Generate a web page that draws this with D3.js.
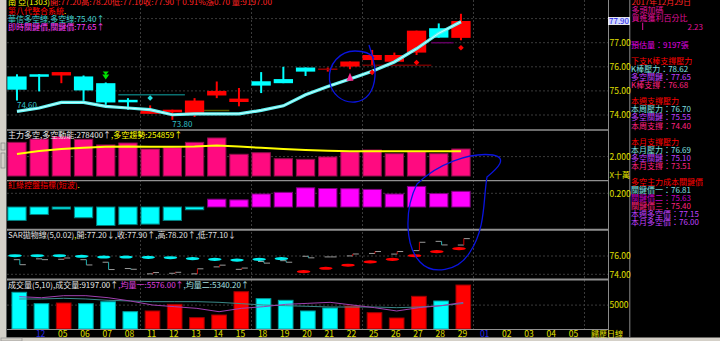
<!DOCTYPE html>
<html>
<head>
<meta charset="utf-8">
<script src="https://cdnjs.cloudflare.com/ajax/libs/d3/7.8.5/d3.min.js"></script>
<style>
body { margin: 0; background: #000; }
svg text { font-family: "Noto Sans CJK TC", "Noto Sans CJK SC", sans-serif; font-size: 8px; }
</style>
</head>
<body>
<div id="chart"></div>
<script>
var dayLabels = ["", "12", "05", "06", "07", "08", "11", "12", "13", "14", "15", "18", "19", "20", "21", "22", "25", "26", "27", "28", "29", "01", "02", "03", "04", "05", ""];
var monthIdx = [1, 21];

var open  = [75.60, 75.69, 75.64, 75.60, 75.32, 74.63, 74.05, 74.11, 74.05, 74.81, 74.54, 75.40, 75.49, 75.97, 75.90, 76.01, 76.28, 76.21, 76.59, 77.60, 77.20];
var high  = [75.69, 75.70, 75.78, 75.64, 75.35, 74.70, 74.40, 74.22, 74.70, 75.39, 75.12, 75.78, 76.00, 75.97, 75.97, 76.22, 76.70, 76.59, 77.50, 77.80, 78.20];
var low   = [74.60, 74.98, 75.32, 74.59, 74.42, 74.22, 74.05, 73.80, 73.92, 74.70, 74.36, 74.91, 75.32, 75.62, 75.80, 75.90, 76.08, 76.21, 76.49, 77.21, 77.10];
var close = [75.05, 75.60, 75.78, 75.02, 74.52, 74.55, 74.19, 74.22, 74.60, 75.00, 74.68, 75.22, 75.32, 75.80, 75.90, 76.22, 76.49, 76.49, 77.50, 77.21, 77.90];
var trendLine = [74.15, 74.29, 74.52, 74.52, 74.36, 74.29, 74.22, 74.01, 74.05, 74.05, 74.05, 74.19, 74.38, 74.84, 75.18, 75.49, 75.82, 76.20, 76.75, 77.39, 77.87];

var power = [347000, 381000, 405000, 378000, 320000, 340000, 278000, 292000, 347000, 392000, 224000, 240000, 178000, 172000, 196000, 250000, 268000, 230000, 250000, 230000, 278400];
var powerTrend = [226000, 257000, 278000, 292000, 302000, 305000, 302000, 302000, 305000, 315000, 305000, 290000, 278000, 268000, 260000, 255000, 255000, 255000, 254000, 254000, 254859];

var redGreen = [-0.196, -0.11, -0.03, -0.157, -0.27, -0.257, -0.25, -0.196, -0.04, 0.114, 0.104, 0.19, 0.214, 0.28, 0.27, 0.267, 0.257, 0.19, 0.30, 0.196, 0.229];

var sar = [76.03, 76.03, 76.03, 75.97, 75.89, 75.89, 75.86, 75.81, 75.71, 75.64, 75.56, 75.64, 75.71, 74.29, 74.66, 74.99, 75.35, 75.64, 76.03, 76.47, 76.80];

var volume = [7680, 5300, 5440, 5300, 5700, 3620, 3770, 5160, 2370, 2930, 7800, 6340, 6000, 3770, 4390, 4810, 3410, 2300, 6840, 5860, 9197];
var volMa5 = [6760, 6550, 6970, 6970, 6550, 5860, 5020, 4670, 4320, 3620, 4320, 4670, 5160, 5370, 5580, 5020, 4460, 3770, 4460, 4880, 5576];
var volMa10 = [6280, 6280, 6420, 6280, 6000, 5860, 5720, 5720, 5720, 5580, 5300, 5020, 4880, 4740, 4600, 4600, 4600, 4460, 4600, 4880, 5340.2];

var markers = [{ i: 4, kind: "arrow" }, { i: 6, kind: "cyanDot" }, { i: 15, kind: "tri" }, { i: 16, kind: "redDot" }, { i: 18, kind: "redDot" }, { i: 20, kind: "redDot" }];
var lowLabels = [0, 7];
var levels = [
  { from: 5, to: 8, price: 74.84, kind: "a" },
  { from: 8, to: 10, price: 74.19, kind: "b" },
  { from: 16, to: 19.1, price: 76.06, kind: "c" },
  { from: 19.1, to: 20.1, price: 77.0, kind: "d" }
];

var infoTop = [
  { t: "2017年12月29日", k: "date" },
  { t: "多頭加碼", k: "sig" },
  { t: "買進獲利百分比", k: "sig" }
];
var profitPct = "2.23";
var infoRows = [
  { t: "預估量：9197張", k: "est" }, null,
  { t: "下支K棒支撐壓力", k: "head" },
  { t: "K棒壓力：78.62", k: "res" },
  { t: "多空關鍵：77.65", k: "key" },
  { t: "K棒支撐：76.68", k: "sup" }, null,
  { t: "本週支撐壓力", k: "head" },
  { t: "本周壓力：76.70", k: "res" },
  { t: "多空關鍵：75.55", k: "key" },
  { t: "本周支撐：74.40", k: "sup" }, null,
  { t: "本月支撐壓力", k: "head" },
  { t: "本月壓力：76.69", k: "res" },
  { t: "多空關鍵：75.10", k: "key" },
  { t: "本月支撐：73.51", k: "sup" }, null,
  { t: "多空主力成本關鍵價", k: "head" },
  { t: "關鍵價一：76.81", k: "res" },
  { t: "關鍵價二：75.63", k: "key2" },
  { t: "關鍵價三：75.40", k: "sup" },
  { t: "本週多空價：77.15", k: "key" },
  { t: "本月多空價：76.00", k: "key" }
];

var infoColor = { date: "#ff2020", sig: "#e0109a", est: "#e000e0", head: "#ff0000", res: "#80e0e0", key: "#c040ff", key2: "#c800c8", sup: "#ff2080" };
var levelColor = { a: "#0a7070", b: "#5a5a00", c: "#700000", d: "#600060" };
var RED = "#ff0000", CYAN = "#00ffff", YEL = "#e0e000";

var W = 720, H = 341, PR = 608;
var svg = d3.select("#chart").append("svg").attr("width", W).attr("height", H)
  .style("display", "block").style("background", "#000");

var x = d3.scaleBand().domain(d3.range(dayLabels.length)).range([7.3, 7.3 + 22.2 * dayLabels.length]);
var bw = x.bandwidth();
function cx(i) { return x(i) + bw * 0.435; }
function xs(f) { return x.range()[0] + f * x.step(); }

var yMain = d3.scaleLinear().domain([74, 77]).range([115, 42.7]);
var y2 = d3.scaleLinear().domain([0, 200000]).range([176, 156.6]);
var y3 = d3.scaleLinear().domain([0, 0.2]).range([207, 193.3]);
var y4 = d3.scaleLinear().domain([74, 76]).range([274.3, 256]);
var yv = d3.scaleLinear().domain([0, 5000]).range([329, 305.1]);

var panels = [[0, 130], [130.5, 180.5], [180.5, 229.5], [229.5, 279.3], [279.3, 329.5]];
var defs = svg.append("defs");
panels.forEach(function (p, k) {
  defs.append("clipPath").attr("id", "clip" + k).append("rect")
    .attr("x", 7).attr("y", p[0]).attr("width", PR - 7).attr("height", p[1] - p[0]);
});
function panel(k) { return svg.append("g").attr("clip-path", "url(#clip" + k + ")"); }

// frame
svg.append("rect").attr("x", 0).attr("y", 0).attr("width", 6).attr("height", 338).attr("fill", "#d4d0c8");
svg.append("rect").attr("x", 1).attr("y", 143).attr("width", 4).attr("height", 7).attr("fill", "none").attr("stroke", "#808080").attr("stroke-width", 0.7);
svg.append("rect").attr("x", 1).attr("y", 153).attr("width", 4).attr("height", 15).attr("fill", "none").attr("stroke", "#808080").attr("stroke-width", 0.7);
svg.append("line").attr("x1", 6.5).attr("x2", 6.5).attr("y1", 0).attr("y2", 338).attr("stroke", "#606060");

// grid
var grid = svg.append("g").attr("stroke", "#3a3a3a").attr("stroke-dasharray", "2,2").attr("stroke-width", 1);
[6, 11, 16, 21, 26].forEach(function (k) {
  grid.append("line").attr("x1", xs(k)).attr("x2", xs(k)).attr("y1", 0).attr("y2", 329);
});
var hGrid = [yMain(74), yMain(75), yMain(76), yMain(77), yMain(78), y2(200000), y3(0.2), y4(76), y4(74), yv(5000)];
hGrid.forEach(function (yy) {
  grid.append("line").attr("x1", 7).attr("x2", PR).attr("y1", yy).attr("y2", yy);
});

// main panel
var g1 = panel(0);
g1.selectAll("line.lvl").data(levels).join("line")
  .attr("x1", function (d) { return xs(d.from); }).attr("x2", function (d) { return xs(d.to); })
  .attr("y1", function (d) { return yMain(d.price); }).attr("y2", function (d) { return yMain(d.price); })
  .attr("stroke", function (d) { return levelColor[d.kind]; }).attr("stroke-width", 1.5);

var idx = d3.range(open.length);
var candle = g1.selectAll("g.k").data(idx).join("g");
candle.append("line")
  .attr("x1", cx).attr("x2", cx)
  .attr("y1", function (i) { return yMain(high[i]); }).attr("y2", function (i) { return yMain(low[i]); })
  .attr("stroke", function (i) { return close[i] >= open[i] ? RED : CYAN; }).attr("stroke-width", 2);
candle.append("rect")
  .attr("x", function (i) { return x(i); }).attr("width", bw * 0.87)
  .attr("y", function (i) { return close[i] === open[i] ? yMain(open[i]) - 0.7 : yMain(Math.max(open[i], close[i])); })
  .attr("height", function (i) {
    return close[i] === open[i] ? 1.4 : Math.max(2.5, Math.abs(yMain(open[i]) - yMain(close[i])));
  })
  .attr("fill", function (i) { return close[i] === open[i] ? "#a00000" : close[i] > open[i] ? RED : CYAN; });

var mline = d3.line().x(function (d, i) { return cx(i); }).y(function (d) { return yMain(d); });
g1.append("path").datum(trendLine).attr("d", mline).attr("fill", "none").attr("stroke", "#5ff2f2").attr("stroke-width", 3.2);
g1.append("path").datum(trendLine).attr("d", mline).attr("fill", "none").attr("stroke", "#c8ffff").attr("stroke-width", 1);

markers.forEach(function (m) {
  var px = cx(m.i);
  if (m.kind === "arrow") {
    var t = yMain(high[m.i]) - 11;
    g1.append("path").attr("d", "M" + (px - 3) + "," + t + "h6l-3,3.5z M" + (px - 3.5) + "," + (t + 3) + "h7l-3.5,5z").attr("fill", "#00e000");
  } else if (m.kind === "tri") {
    var ty = yMain(low[m.i]) + 3.5;
    g1.append("path").attr("d", "M" + px + "," + ty + "l3.5,8h-7z").attr("fill", "#ff2a90");
  } else {
    var up = m.kind === "cyanDot";
    var dy = up ? yMain(high[m.i]) - 7.4 : yMain(low[m.i]) + 7.5;
    g1.append("path").attr("d", "M" + px + "," + (dy - 2.8) + "l2.8,2.8l-2.8,2.8l-2.8,-2.8z")
      .attr("fill", up ? "#20e0e0" : RED);
  }
});
g1.selectAll("text.low").data(lowLabels).join("text")
  .attr("x", cx).attr("y", function (i) { return yMain(low[i]) + 7.6; })
  .attr("fill", "#30c0c8").text(function (i) { return low[i].toFixed(2); });

// panel 2
var g2 = panel(1);
g2.selectAll("rect").data(power).join("rect")
  .attr("x", function (d, i) { return x(i) + 0.5; }).attr("width", bw * 0.87 - 1)
  .attr("y", function (d) { return y2(d); }).attr("height", function (d) { return y2(0) - y2(d); })
  .attr("fill", "#ff0a80").attr("stroke", "#90104c").attr("stroke-width", 1);
g2.append("path").datum(powerTrend)
  .attr("d", d3.line().x(function (d, i) { return cx(i); }).y(function (d) { return y2(d); }))
  .attr("fill", "none").attr("stroke", "#ffff00").attr("stroke-width", 2);

// panel 3
var g3 = panel(2);
g3.selectAll("rect").data(redGreen).join("rect")
  .attr("x", function (d, i) { return x(i) + 0.5; }).attr("width", bw * 0.87 - 1)
  .attr("y", function (d) { return y3(Math.max(0, d)); })
  .attr("height", function (d) { return Math.abs(y3(d) - y3(0)); })
  .attr("fill", function (d) { return d < 0 ? CYAN : "#ff00ff"; })
  .attr("stroke", function (d) { return d < 0 ? "#008080" : "#800080"; }).attr("stroke-width", 1);

// panel 4
var g4 = panel(3);
var bar4 = g4.selectAll("g").data(idx).join("g");
bar4.append("path").attr("fill", "none").attr("stroke", "#9a9a9a").attr("stroke-width", 1)
  .attr("d", function (i) {
    var px = x(i) + 12.5;
    return "M" + (px - 6) + "," + y4(open[i]) + "H" + px + "M" + px + "," + y4(close[i]) + "H" + (px + 6);
  });
bar4.append("line")
  .attr("x1", function (i) { return x(i) + 12.5; }).attr("x2", function (i) { return x(i) + 12.5; })
  .attr("y1", function (i) { return y4(open[i]); }).attr("y2", function (i) { return y4(close[i]); })
  .attr("stroke", function (i) { return close[i] >= open[i] ? "#d00000" : "#20b0b0"; }).attr("stroke-width", 1);
g4.selectAll("ellipse").data(sar).join("ellipse")
  .attr("cx", function (d, i) { return x(i) + 7.7; }).attr("cy", function (d) { return y4(d); })
  .attr("rx", 6.8).attr("ry", 1.6)
  .attr("fill", function (d, i) { return d > close[i] ? "#00f0f0" : "#ff0000"; });

// panel 5
var g5 = panel(4);
g5.selectAll("rect").data(volume).join("rect")
  .attr("x", function (d, i) { return x(i) + bw * 0.21; }).attr("width", bw * 0.66)
  .attr("y", function (d) { return yv(d); }).attr("height", function (d) { return yv(0) - yv(d); })
  .attr("fill", function (d, i) { return close[i] > open[i] ? RED : CYAN; })
  .attr("stroke", function (d, i) { return close[i] > open[i] ? "#a00000" : "#00a0a0"; }).attr("stroke-width", 1);
var vline = d3.line().x(function (d, i) { return x(i) + bw * 0.54; }).y(function (d) { return yv(d); });
g5.append("path").datum(volMa10).attr("d", vline).attr("fill", "none").attr("stroke", "#3a8a8a").attr("stroke-width", 1);
g5.append("path").datum(volMa5).attr("d", vline).attr("fill", "none").attr("stroke", "#a040b0").attr("stroke-width", 1);

// separators and right frame
[[130, 1.3], [180.7, 1.3], [229.8, 2], [279.4, 2], [329.5, 1]].forEach(function (s) {
  svg.append("line").attr("x1", 7).attr("x2", PR).attr("y1", s[0]).attr("y2", s[0])
    .attr("stroke", "#909090").attr("stroke-width", s[1]);
});
svg.append("line").attr("x1", PR + 0.5).attr("x2", PR + 0.5).attr("y1", 0).attr("y2", 337).attr("stroke", "#8a8a8a");
svg.append("line").attr("x1", 629.8).attr("x2", 629.8).attr("y1", 0).attr("y2", 337).attr("stroke", "#8a8a8a");

// right axes
var FONT = '"Noto Sans CJK TC", "Noto Sans CJK SC", sans-serif';
function rightAxis(scale, ticks, fmt) {
  var g = svg.append("g").attr("transform", "translate(" + PR + ",0)")
    .call(d3.axisRight(scale).tickValues(ticks).tickSize(0).tickPadding(1.5).tickFormat(fmt));
  g.select(".domain").remove();
  g.selectAll("text").attr("fill", YEL).style("font-size", "8.5px").style("font-family", FONT);
  return g;
}
rightAxis(yMain, [74, 75, 76, 77], d3.format(".2f"));
rightAxis(y2, [200000], function (d) { return (d / 100000).toFixed(3); });
rightAxis(y3, [0.2], d3.format(".3f"));
rightAxis(y4, [74, 76], d3.format(".2f"));
rightAxis(yv, [5000], d3.format("d"));
svg.append("text").attr("x", 609.5).attr("y", 178).attr("fill", YEL).text("X十萬");

var last = close.length - 1;
svg.append("rect").attr("x", 608.5).attr("y", yMain(close[last]) - 3.6).attr("width", 21).attr("height", 7.2)
  .attr("fill", "#d0d6ff").attr("stroke", "#ffffff").attr("stroke-width", 0.8);
svg.append("text").attr("x", 619).attr("y", yMain(close[last]) + 3).attr("text-anchor", "middle")
  .attr("fill", "#2020e0").style("font-size", "8px").text(close[last].toFixed(2));

// bottom axis
var gx = svg.append("g").attr("transform", "translate(0,330)")
  .call(d3.axisBottom(x).tickSize(0).tickPadding(1).tickFormat(function (i) { return dayLabels[i]; }));
gx.select(".domain").remove();
gx.selectAll("text").style("font-size", "8.5px").style("font-family", FONT)
  .attr("fill", function (i) { return monthIdx.indexOf(i) >= 0 ? "#2a2ae8" : YEL; });
svg.append("text").attr("x", 591).attr("y", 337).attr("fill", YEL).text("歸歷日線");
svg.append("rect").attr("x", 0).attr("y", 337.5).attr("width", W).attr("height", 3.5).attr("fill", "#d4d0c8");
svg.append("rect").attr("x", 1).attr("y", 338).attr("width", 21).attr("height", 3).attr("fill", "none").attr("stroke", "#909090").attr("stroke-width", 0.7);

// header and panel titles
function line(yy, parts, fit) {
  var t = svg.append("text").attr("x", 8).attr("y", yy);
  if (fit) t.attr("textLength", fit).attr("lengthAdjust", "spacingAndGlyphs");
  parts.forEach(function (p) { t.append("tspan").attr("fill", p[1]).text(p[0]); });
}
var f2 = d3.format(".2f");
line(5, [["南 亞(1303)", "#ffff00"], ["開:" + f2(open[last]) + "高:" + f2(high[last]) + "低:" + f2(low[last]) + "收:" + f2(close[last]) + "↑0.91%漲0.70 量:" + f2(volume[last]), "#ff2020"]], 264);
line(14, [["第八代整合系統", "#ff0000"], [".", "#ffff00"]]);
line(21.5, [["華信多空線,多空線:75.40↑", "#40d0d0"]]);
line(30, [["即時關鍵價,關鍵價:77.65↑", "#ff40ff"]]);
line(137.5, [["主力多空,多空動能:" + power[last] + "↑", "#e8e8e8"], [",多空趨勢:" + powerTrend[last] + "↑", "#ffff00"]]);
line(187.5, [["紅綠控盤指標(短波)", "#ff0000"], [".", "#ffff00"]]);
line(237.5, [["SAR拋物線(5,0.02)", "#e0e0e0"], [",", "#ffff00"], ["開:" + f2(open[last]) + "↓,收:" + f2(close[last]) + "↑,高:" + f2(high[last]) + "↑,低:" + f2(low[last]) + "↓", "#e0e0e0"]]);
line(287.5, [["成交量(5,10),成交量:" + f2(volume[last]) + "↑", "#e8e8e8"], [",均量一:" + f2(volMa5[last]) + "↑", "#e040e0"], [",均量二:" + f2(volMa10[last]) + "↑", "#a8e0e0"]]);

// info panel
infoTop.forEach(function (r, k) {
  svg.append("text").attr("x", 631.5).attr("y", 5.3 + k * 7.6).attr("fill", infoColor[r.k]).text(r.t);
});
svg.append("line").attr("x1", 642.7).attr("x2", 642.7).attr("y1", 22.7).attr("y2", 30).attr("stroke", "#e0109a").attr("stroke-width", 1);
svg.append("text").attr("x", 703).attr("y", 29.7).attr("text-anchor", "end").attr("fill", infoColor.sig).text(profitPct);
infoRows.forEach(function (r, k) {
  if (!r) return;
  svg.append("text").attr("x", 631).attr("y", 48 + k * 8.05).attr("fill", infoColor[r.k]).text(r.t);
});

// hand-drawn marks
var ink = svg.append("g").attr("fill", "none").attr("stroke", "#0a14e0").attr("stroke-width", 1.3);
ink.append("path").attr("d", "M369,45 C372,55 376,65 375,76 C374,92 366,101 355,102 C342,103 331,94 329.5,80 C328,64 340,51 355,51 C364,51 371,54 374,58");
ink.append("path").attr("d", "M417,184 C437,164 470,152 493,155 C508,158 498,168 487,177 C483,200 486,228 470,252 C458,272 432,275 420,262 C405,246 404,210 417,184");
</script>
</body>
</html>
